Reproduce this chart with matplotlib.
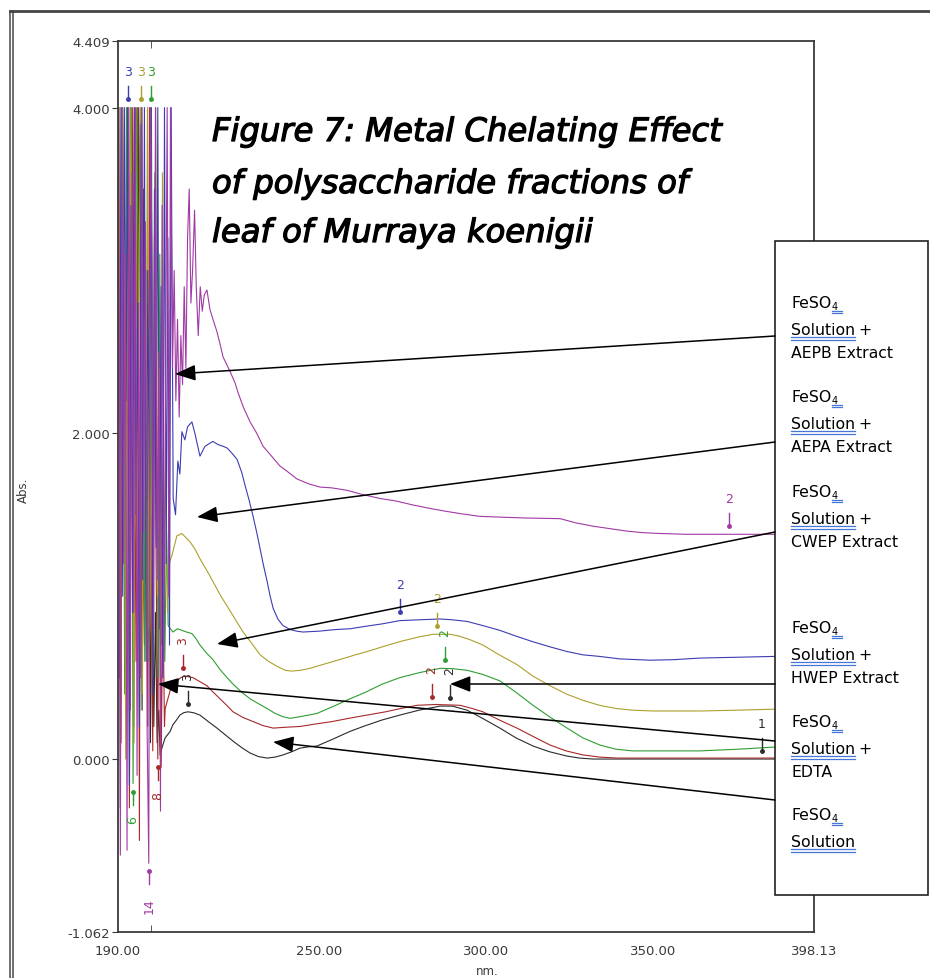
import numpy as np
import matplotlib
matplotlib.use("Agg")
import matplotlib.pyplot as plt
import matplotlib.patheffects as pe
from matplotlib.patches import Rectangle

# ---- spectra (nm, Abs) ----
# saturated / noisy start of each scan
aepb_noise_nm = [190.2, 190.7, 191.2, 191.7, 192.2, 192.7, 193.2, 193.7, 194.2, 194.7, 195.2, 195.7,
                 196.2, 196.7, 197.2, 197.7, 198.2, 198.7, 199.2, 199.7, 200.2, 200.7, 201.2, 201.7,
                 202.2, 202.7, 203.2, 203.7, 204.2, 204.7, 205.2, 205.7]
aepb_noise_abs = [4.0, -0.59, 4.0, 1.2, 3.1, -0.56, 4.0, 0.3, 3.6, 0.9, 4.0, -0.1,
                  2.8, 0.5, 4.0, 1.4, 3.3, 0.2, -0.64, 4.0, 3.0, 0.8, 4.0, 1.1,
                  2.5, -0.32, 3.4, 0.6, 2.2, 4.0, 1.0, 4.0]
aepb_nm = [206.3, 206.8, 207.3, 207.8, 208.3, 208.8, 209.3, 209.8, 210.3, 210.8, 211.3, 211.8,
           212.3, 212.9, 213.4, 214.0, 214.6, 215.2, 215.8, 216.6, 217.5, 218.4, 219.5, 220.5,
           221.4, 223.5, 225.0, 225.9, 227.5, 229.5, 231.5, 233.4, 235.5, 238.4, 241.0, 243.5,
           247.0, 250.4, 254.0, 258.5, 263.0, 268.3, 273.0, 278.2, 283.0, 288.4, 293.0, 298.3,
           305.0, 312.0, 322.2, 327.0, 332.0, 337.0, 342.0, 347.0, 352.0, 360.0, 372.7, 385.0,
           398.1]
aepb_abs = [2.4, 3.0, 2.2, 2.7, 2.1, 2.6, 2.3, 2.9, 2.4, 3.2, 3.5, 2.8,
            3.0, 3.37, 2.9, 2.6, 2.9, 2.75, 2.85, 2.88, 2.76, 2.70, 2.63, 2.55,
            2.47, 2.38, 2.31, 2.25, 2.16, 2.07, 2.00, 1.92, 1.87, 1.80, 1.76, 1.72,
            1.69, 1.67, 1.665, 1.65, 1.625, 1.60, 1.585, 1.56, 1.54, 1.52, 1.505, 1.49,
            1.485, 1.48, 1.476, 1.45, 1.43, 1.415, 1.40, 1.39, 1.385, 1.38, 1.38, 1.38,
            1.38]

aepa_noise_nm = [190.4, 190.9, 191.4, 191.9, 192.4, 192.9, 193.4, 193.9, 194.4, 194.9, 195.4, 195.9,
                 196.4, 196.9, 197.4, 197.9, 198.4, 198.9, 199.4, 199.9, 200.4, 200.9, 201.4, 201.9,
                 202.4, 202.9, 203.4, 203.9, 204.4, 204.9, 205.4, 205.9]
aepa_noise_abs = [0.5, 4.0, 1.0, 4.0, 2.2, 4.0, -0.16, 3.4, 0.9, 4.0, 1.5, 2.8,
                  0.2, 3.9, 1.1, 4.0, 0.6, 3.0, 1.6, 4.0, 0.4, 3.5, 1.3, 4.0,
                  0.8, 2.9, 0.5, 4.0, 1.2, 3.2, 0.7, 4.0]
aepa_nm = [206.5, 207.2, 207.9, 208.5, 209.1, 210.0, 210.8, 212.1, 213.0, 214.5, 216.0, 217.5,
           218.4, 220.0, 221.5, 222.6, 224.0, 225.6, 227.0, 228.0, 229.2, 230.4, 231.5, 232.5,
           233.5, 234.6, 235.5, 236.4, 237.8, 239.3, 241.5, 243.5, 245.3, 250.0, 255.0, 259.4,
           264.0, 269.0, 274.3, 280.0, 286.3, 290.0, 294.4, 299.0, 304.2, 309.0, 314.1, 319.0,
           324.3, 329.0, 334.1, 340.0, 349.1, 356.0, 364.0, 375.0, 385.9, 398.1]
aepa_abs = [1.6, 1.5, 1.83, 1.75, 2.01, 1.96, 2.04, 2.07, 2.0, 1.86, 1.92, 1.94,
            1.95, 1.93, 1.92, 1.91, 1.88, 1.84, 1.76, 1.68, 1.59, 1.49, 1.39, 1.29,
            1.19, 1.09, 1.0, 0.925, 0.86, 0.82, 0.795, 0.785, 0.78, 0.785, 0.795, 0.80,
            0.815, 0.83, 0.85, 0.855, 0.86, 0.855, 0.845, 0.82, 0.79, 0.755, 0.72, 0.69,
            0.66, 0.64, 0.63, 0.615, 0.607, 0.61, 0.62, 0.625, 0.63, 0.635]

cwep_noise_nm = [190.3, 190.8, 191.3, 191.8, 192.3, 192.8, 193.3, 193.8, 194.3, 194.8, 195.3, 195.8,
                 196.3, 196.8, 197.3, 197.8, 198.3, 198.8, 199.3, 199.8, 200.3, 200.8, 201.3, 201.8,
                 202.3, 202.8, 203.3, 203.8, 204.3, 204.8, 205.3]
cwep_noise_abs = [4.0, 0.6, 4.0, 2.9, 0.0, 3.5, 0.3, 4.0, 2.2, 0.1, 4.0, 0.9,
                  3.0, 4.0, 0.4, 2.7, 1.2, 4.0, 0.8, 3.1, 0.5, 2.0, 4.0, 1.0,
                  2.4, 0.7, 3.6, 1.1, 1.9, 0.9, 1.2]
cwep_nm = [206.1, 207.6, 209.1, 210.3, 211.5, 213.0, 214.5, 216.5, 218.4, 220.5, 222.6, 225.0,
           227.4, 230.0, 232.5, 235.0, 237.5, 240.0, 242.0, 244.5, 247.4, 252.0, 257.0, 261.0,
           264.5, 270.0, 275.0, 280.0, 284.2, 289.3, 292.0, 295.0, 299.1, 304.0, 309.3, 314.0,
           319.2, 324.0, 329.1, 334.0, 339.0, 344.0, 350.0, 364.0, 375.0, 385.9, 398.1]
cwep_abs = [1.25, 1.37, 1.385, 1.36, 1.335, 1.29, 1.23, 1.16, 1.09, 1.01, 0.94, 0.86,
            0.78, 0.71, 0.64, 0.60, 0.57, 0.545, 0.54, 0.545, 0.557, 0.585, 0.615, 0.64,
            0.66, 0.695, 0.725, 0.75, 0.766, 0.766, 0.755, 0.735, 0.70, 0.64, 0.58, 0.51,
            0.45, 0.40, 0.36, 0.33, 0.31, 0.30, 0.295, 0.295, 0.30, 0.306, 0.31]

hwep_noise_nm = [190.5, 191.0, 191.5, 192.0, 192.5, 193.0, 193.5, 194.0, 194.5, 195.0, 195.5, 196.0,
                 196.5, 197.0, 197.5, 198.0, 198.5, 199.0, 199.5, 200.0, 200.5, 201.0, 201.5, 202.0,
                 202.5, 203.0, 203.5, 204.0, 204.5]
hwep_noise_abs = [1.5, 4.0, 3.0, 0.4, 4.0, 2.6, 0.8, 4.0, -0.15, 1.8, 4.0, 3.2,
                  0.3, 4.0, 2.4, 0.6, 3.0, 0.6, 1.6, 4.0, 0.9, 3.6, 2.2, 0.5,
                  3.1, 0.7, 1.9, 0.6, 1.4]
hwep_nm = [205.0, 206.4, 207.8, 209.1, 210.5, 212.1, 213.3, 214.5, 216.5, 218.4, 220.5, 222.6,
           224.4, 227.0, 229.5, 232.0, 234.6, 237.0, 239.3, 241.5, 244.4, 247.0, 249.5, 254.0,
           259.4, 264.0, 269.0, 274.3, 280.0, 286.3, 290.0, 294.4, 299.0, 304.2, 309.0, 314.1,
           319.0, 324.3, 329.0, 334.1, 339.0, 344.0, 355.0, 364.0, 375.0, 385.9, 398.1]
hwep_abs = [0.82, 0.78, 0.80, 0.79, 0.78, 0.77, 0.74, 0.70, 0.65, 0.61, 0.55, 0.50,
            0.46, 0.41, 0.37, 0.34, 0.31, 0.28, 0.26, 0.25, 0.26, 0.27, 0.28, 0.32,
            0.37, 0.41, 0.46, 0.50, 0.53, 0.557, 0.555, 0.545, 0.52, 0.48, 0.41, 0.33,
            0.26, 0.19, 0.13, 0.086, 0.06, 0.05, 0.05, 0.05, 0.06, 0.073, 0.075]

edta_noise_nm = [190.4, 190.9, 191.4, 191.9, 192.4, 192.9, 193.4, 193.9, 194.4, 194.9, 195.4, 195.9,
                 196.4, 196.9, 197.4, 197.9, 198.4, 198.9, 199.4, 199.9, 200.4, 200.9, 201.4, 201.9,
                 202.4, 202.9, 203.4, 203.9]
edta_noise_abs = [3.0, 0.1, 4.0, 2.4, 0.9, 4.0, -0.3, 1.6, 4.0, 2.2, 0.6, 4.0,
                  -0.50, 4.0, 1.3, 0.7, 2.9, 0.2, 4.0, 1.0, 0.05, 3.2, 1.2, 0.0,
                  2.1, -0.05, 1.0, 0.2]
edta_nm = [204.1, 205.6, 206.6, 207.6, 208.8, 210.0, 211.2, 212.4, 214.5, 216.6, 218.5, 220.5,
           222.5, 224.4, 227.4, 230.4, 233.4, 236.4, 240.0, 244.4, 249.0, 254.0, 259.0, 264.5,
           270.0, 274.5, 279.4, 285.0, 292.3, 296.0, 299.1, 304.0, 309.3, 314.0, 319.2, 324.0,
           329.1, 334.0, 339.2, 360.0, 385.9, 398.1]
edta_abs = [0.31, 0.42, 0.46, 0.48, 0.50, 0.51, 0.505, 0.50, 0.475, 0.45, 0.41, 0.37,
            0.33, 0.29, 0.255, 0.23, 0.205, 0.19, 0.195, 0.20, 0.215, 0.23, 0.25, 0.27,
            0.29, 0.31, 0.33, 0.335, 0.33, 0.31, 0.29, 0.24, 0.19, 0.14, 0.086, 0.05,
            0.025, 0.012, 0.006, 0.006, 0.006, 0.006]

feso4_noise_nm = [190.2, 190.7, 191.2, 191.7, 192.2, 192.7, 193.2, 193.7, 194.2, 194.7, 195.2, 195.7,
                  196.2, 196.7, 197.2, 197.7, 198.2, 198.7, 199.2, 199.7, 200.2, 200.7, 201.2, 201.7,
                  202.2]
feso4_noise_abs = [4.0, -0.3, 4.0, 2.6, 0.4, 3.8, 1.0, 4.0, 2.2, 0.2, 3.3, 0.9,
                   4.0, 2.7, 0.3, 3.5, 1.8, 0.6, 2.4, 0.1, 1.5, 0.2, 0.9, 0.1,
                   0.3]
feso4_nm = [202.6, 203.3, 204.1, 205.6, 206.4, 207.5, 208.5, 209.7, 210.9, 212.5, 214.5, 217.0,
            219.6, 222.0, 224.4, 227.0, 229.5, 232.0, 234.6, 237.0, 239.3, 242.0, 244.4, 247.0,
            249.5, 254.0, 259.4, 264.0, 269.0, 274.3, 280.0, 286.3, 290.0, 294.4, 299.0, 304.2,
            309.0, 314.1, 319.0, 324.3, 328.0, 332.0, 360.0, 385.9, 398.1]
feso4_abs = [0.025, 0.08, 0.13, 0.17, 0.21, 0.24, 0.27, 0.285, 0.29, 0.285, 0.27, 0.23,
             0.19, 0.15, 0.11, 0.07, 0.037, 0.015, 0.006, 0.012, 0.025, 0.045, 0.067, 0.075,
             0.08, 0.12, 0.17, 0.205, 0.24, 0.27, 0.30, 0.325, 0.325, 0.30, 0.25, 0.19,
             0.13, 0.08, 0.045, 0.018, 0.006, 0.0, 0.0, 0.0, 0.0]

# peak / valley pick labels
pick_series = ["feso4", "feso4", "feso4", "edta", "edta", "edta", "hwep", "hwep", "hwep",
               "cwep", "cwep", "aepa", "aepa", "aepb", "aepb"]
pick_nm = [210.9, 289.3, 382.6, 209.4, 283.9, 201.9, 287.8, 200.0, 194.5,
           285.4, 196.8, 274.3, 192.9, 372.7, 199.2]
pick_abs = [0.29, 0.325, 0.0, 0.51, 0.33, 0.0, 0.557, 4.0, -0.15,
            0.766, 4.0, 0.85, 4.0, 1.38, -0.64]
pick_text = ["3", "2", "1", "3", "2", "8", "2", "3", "6", "2", "3", "2", "3", "2", "14"]
pick_rot = [90, 90, 0, 90, 90, 90, 90, 0, 90, 0, 0, 0, 0, 0, 90]
pick_below = [0, 0, 0, 0, 0, 1, 0, 0, 1, 0, 0, 0, 0, 0, 1]

x_ticks = [190.0, 250.0, 300.0, 350.0, 398.13]
x_tick_labels = ["190.00", "250.00", "300.00", "350.00", "398.13"]
y_ticks = [-1.062, 0.0, 2.0, 4.0, 4.409]
y_tick_labels = ["-1.062", "0.000", "2.000", "4.000", "4.409"]

title_lines = ["Figure 7: Metal Chelating Effect",
               "of polysaccharide fractions of",
               "leaf of Murraya koenigii"]
legend_extra = ["AEPB Extract", "AEPA Extract", "CWEP Extract", "HWEP Extract", "EDTA", None]

series = {
    "feso4": (feso4_noise_nm + feso4_nm, feso4_noise_abs + feso4_abs, "#2b2b2b"),
    "edta": (edta_noise_nm + edta_nm, edta_noise_abs + edta_abs, "#a8282a"),
    "hwep": (hwep_noise_nm + hwep_nm, hwep_noise_abs + hwep_abs, "#2e9e32"),
    "cwep": (cwep_noise_nm + cwep_nm, cwep_noise_abs + cwep_abs, "#aca02c"),
    "aepa": (aepa_noise_nm + aepa_nm, aepa_noise_abs + aepa_abs, "#3c3cb2"),
    "aepb": (aepb_noise_nm + aepb_nm, aepb_noise_abs + aepb_abs, "#a03aa4"),
}

plt.rcParams['font.family'] = 'DejaVu Sans'
W, H = 930, 979
fig = plt.figure(figsize=(W / 100, H / 100), dpi=100)

# main spectrum axes (pixel box 118..814 x 42..933)
ax = fig.add_axes([118 / W, 1 - 933 / H, 696 / W, 891 / H])
for key in ["feso4", "edta", "hwep", "cwep", "aepa", "aepb"]:
    nm, ab, col = series[key]
    ax.plot(nm, ab, color=col, lw=0.8)

for s, x, y, t, r, b in zip(pick_series, pick_nm, pick_abs, pick_text, pick_rot, pick_below):
    col = series[s][2]
    sg = -1 if b else 1
    ax.plot([x, x], [y + sg * 0.05, y + sg * 0.13], color=col, lw=1.0)
    ax.plot([x], [y + sg * 0.05], marker='o', ms=2.5, color=col)
    ax.text(x, y + sg * 0.22 + (sg * 0.04 if t == "14" else 0), t, color=col, fontsize=9,
            rotation=r, ha='center', va='center')

ax.set_xlim(190, 398.13)
ax.set_ylim(-1.062, 4.409)
ax.set_xticks(x_ticks)
ax.set_xticklabels(x_tick_labels)
ax.set_xticks([200, 250, 300, 350], minor=True)
ax.tick_params(axis='x', which='major', length=0, pad=9, labelsize=9.5, labelcolor='#3a3a3a')
ax.tick_params(axis='x', which='minor', direction='in', length=5, top=True, bottom=True,
               color='#3a3a3a')
ax.set_yticks(y_ticks)
ax.set_yticklabels(y_tick_labels)
ax.tick_params(axis='y', direction='out', length=4, pad=2, labelsize=9.5,
               labelcolor='#3a3a3a', color='#3a3a3a')
for sp in ax.spines.values():
    sp.set_color('#3a3a3a')
    sp.set_linewidth(1.3)
ax.set_ylabel("Abs.", fontsize=8.5, color='#3a3a3a')
ax.yaxis.set_label_coords(-0.126, 0.497)
ax.set_xlabel("nm.", fontsize=8.5, color='#3a3a3a')
ax.xaxis.set_label_coords(0.53, -0.036)

# overlay in image pixel coordinates for frame, title, callouts
ov = fig.add_axes([0, 0, 1, 1], zorder=5)
ov.set_xlim(0, W)
ov.set_ylim(H, 0)
ov.axis('off')

ov.plot([10, 10], [12, H], color='#555555', lw=1.2)
ov.plot([13, 13], [12, H], color='#555555', lw=1.2)
ov.plot([10, W], [12, 12], color='#444444', lw=2.0)

title_base = [142, 194, 243]
for line, yb in zip(title_lines, title_base):
    ov.text(212, yb, line, fontsize=23.2, style='oblique', weight='normal',
            family='DejaVu Sans', va='baseline', ha='left', color='black',
            path_effects=[pe.withStroke(linewidth=0.9, foreground='black')])

# callout box
ov.add_patch(Rectangle((775, 242), 153, 654, facecolor='white', edgecolor='#222222', lw=1.2,
                       zorder=3))

arrow_from = [(775, 337), (775, 443), (775, 533), (775, 685), (775, 742), (775, 801)]
arrow_to = [(175, 375), (197, 518), (217, 645), (450, 685), (158, 685), (273, 743)]
for a, b in zip(arrow_from, arrow_to):
    ov.annotate('', xy=b, xytext=a,
                arrowprops=dict(arrowstyle='-|>,head_length=0.9,head_width=0.35',
                                color='black', lw=1.1, mutation_scale=14,
                                shrinkA=0, shrinkB=0), zorder=4)

rend = fig.canvas.get_renderer()
ul_col = '#4576d6'
fs = 11.3
group_base = [308, 402, 497, 633, 727, 820]
for yb, extra in zip(group_base, legend_extra):
    t1 = ov.text(791, yb, "FeSO", fontsize=fs, va='baseline', ha='left', zorder=5)
    x1 = t1.get_window_extent(renderer=rend).x1
    t2 = ov.text(x1 + 0.5, yb + 2, "4", fontsize=7, va='baseline', ha='left', zorder=5)
    e2 = t2.get_window_extent(renderer=rend)
    for dy in (3.5, 6):
        ov.plot([e2.x0, e2.x1 + 4], [yb + dy, yb + dy], color=ul_col, lw=0.9, zorder=5)
    t3 = ov.text(791, yb + 27, "Solution", fontsize=fs, va='baseline', ha='left', zorder=5)
    e3 = t3.get_window_extent(renderer=rend)
    for dy in (3, 5.5):
        ov.plot([e3.x0, e3.x1], [yb + 27 + dy, yb + 27 + dy], color=ul_col, lw=0.9, zorder=5)
    if extra is not None:
        ov.text(e3.x1 + 3, yb + 27, "+", fontsize=fs, va='baseline', ha='left', zorder=5)
        ov.text(791, yb + 50, extra, fontsize=fs, va='baseline', ha='left', zorder=5)

fig.savefig("out.png", dpi=100)
